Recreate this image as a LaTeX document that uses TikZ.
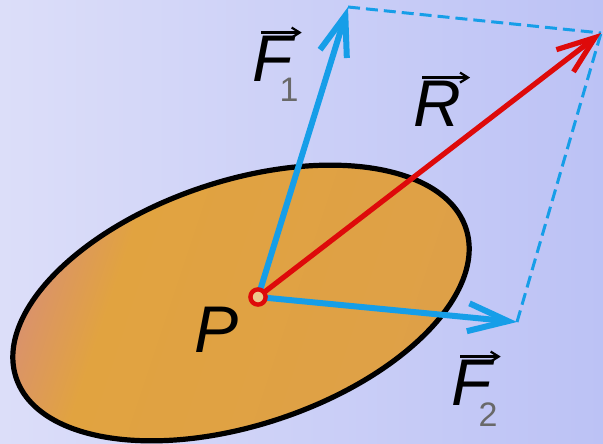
\documentclass[tikz,border=0pt]{standalone}
\usepackage{fontspec}
\setmainfont{Liberation Sans}
\usepackage{xcolor}
\usepackage{tikz}
\usetikzlibrary{arrows.meta,positioning}

\definecolor{bgleft}{RGB}{220,222,249}
\definecolor{bgright}{RGB}{188,194,245}
\definecolor{bodyleft}{RGB}{216,142,118}
\definecolor{bodymid}{RGB}{225,163,64}
\definecolor{bodyright}{RGB}{222,160,72}
\definecolor{forceblue}{RGB}{22,158,232}
\definecolor{resred}{RGB}{222,10,10}
\definecolor{subgray}{RGB}{105,105,105}

\pgfdeclarehorizontalshading{bodyshade}{100bp}{color(0bp)=(bodyleft); color(25bp)=(bodyleft); color(36bp)=(bodymid); color(75bp)=(bodyright); color(100bp)=(bodyright)}

\newsavebox{\vecbox}
\newlength{\vecw}
\newlength{\vech}
\newcommand{\vecname}[1]{\sbox{\vecbox}{\itshape #1}\setlength{\vecw}{\wd\vecbox}\setlength{\vech}{\ht\vecbox}%
    \rlap{\kern0.12em\raisebox{\dimexpr\vech+2pt\relax}{\tikz[baseline=0pt]\draw[line width=1.1pt,-{Straight Barb[length=4pt,width=5pt,line width=1.1pt]},black] (0pt,0pt) -- (\vecw,0pt);}}\usebox{\vecbox}}
\newcommand{\subidx}[1]{\kern-0.2em\raisebox{-10pt}{\fontsize{17}{17}\selectfont\color{subgray}#1}}

\begin{document}
\begin{tikzpicture}[x=0.5pt,y=0.5pt,
    force/.style={-{Straight Barb[length=20pt,width=14pt,line width=3pt]},line width=3pt,forceblue},
    result/.style={-{Straight Barb[length=19pt,width=14pt,line width=2.6pt]},line width=2.6pt,resred},
    helper/.style={dash pattern=on 6pt off 3pt,line width=1.5pt,forceblue},
    lbl/.style={inner sep=0pt,font=\fontsize{33}{33}\selectfont}]
    % Background
    \shade[left color=bgleft,right color=bgright] (0,0) rectangle (603,443);
    \useasboundingbox (0,0) rectangle (603,443);
    % Body
    \shade[rotate around={18.4:(241,140)},shading=bodyshade,shading angle=-18.4]
        (241,140) ellipse (237 and 122);
    \draw[rotate around={18.4:(241,140)},line width=2.6pt] (241,140) ellipse (237 and 122);
    % Points
    \coordinate (P) at (258,146);
    \coordinate (F1) at (348,436);
    \coordinate (F2) at (517,121);
    \coordinate (R) at (601,410);
    % Parallelogram
    \draw[helper] (F1) -- (R);
    \draw[helper] (F2) -- (R);
    % Forces
    \draw[force] (P) -- (F1);
    \draw[force] (P) -- (F2);
    \draw[result] (P) -- (R);
    \filldraw[draw=resred,fill=bodymid!60!white,line width=2.2pt] (P) circle (3.8pt);
    % Labels
    \node[lbl] (lblP) at (217,113) {\itshape P};
    \node[lbl,anchor=base west] (lblF1) at (252,361) {\vecname{F}\subidx{1}};
    \node[lbl,anchor=base west] (lblR) at (413,316) {\vecname{R}};
    \node[lbl,anchor=base west] (lblF2) at (451,37) {\vecname{F}\subidx{2}};
\end{tikzpicture}
\end{document}
